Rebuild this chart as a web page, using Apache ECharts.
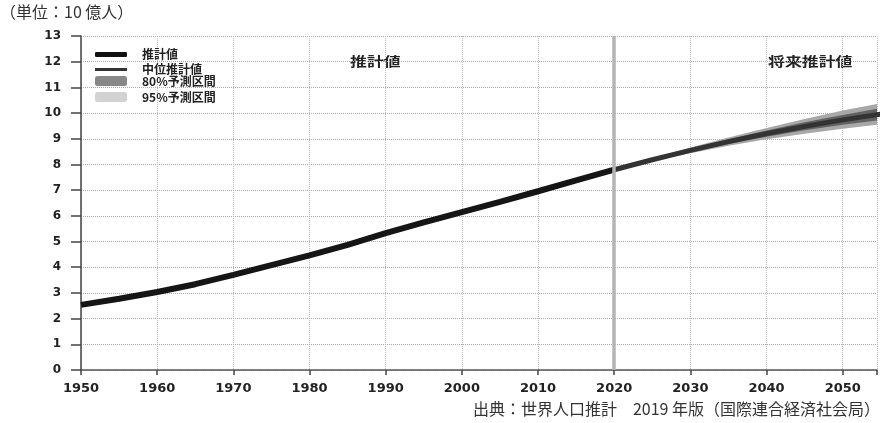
<!DOCTYPE html>
<html><head><meta charset="utf-8">
<script src="https://cdn.jsdelivr.net/npm/echarts@6/dist/echarts.min.js"></script>
<style>html,body{margin:0;padding:0;background:#fff}#c{width:880px;height:423px}</style>
</head><body><div id="c"></div>
<script>
// ---- data (population, unit: billion) ----
const estYears  = [1950,1955,1960,1965,1970,1975,1980,1985,1990,1995,2000,2005,2010,2015,2020];
const estValues = [2.536,2.773,3.035,3.340,3.700,4.079,4.458,4.871,5.327,5.744,6.143,6.542,6.957,7.380,7.795];
const projYears  = [2020,2025,2030,2035,2040,2045,2050,2055,2060];
const projMedian = [7.795,8.184,8.548,8.887,9.199,9.482,9.735,9.958,10.152];
const pi80Low  = [7.795,8.160,8.490,8.800,9.080,9.330,9.550,9.730,9.870];
const pi80High = [7.795,8.210,8.610,8.980,9.320,9.640,9.930,10.200,10.450];
const pi95Low  = [7.795,8.140,8.440,8.730,8.980,9.200,9.390,9.560,9.700];
const pi95High = [7.795,8.230,8.660,9.050,9.420,9.770,10.100,10.380,10.640];
const xTicks = [1950,1960,1970,1980,1990,2000,2010,2020,2030,2040,2050];
const yTicks = [0,1,2,3,4,5,6,7,8,9,10,11,12,13];
const names = ['推計値','中位推計値','80%予測区間','95%予測区間'];

const pairs = (xs, ys) => xs.map((x,i)=>[x, ys[i]]);

const chart = echarts.init(document.getElementById('c'));
const cjk = '"Noto Sans CJK JP", sans-serif';
const lg = (name, cy, h, color, icon) => ({
  left: 95, top: cy - h/2, orient: 'vertical', itemWidth: 32, itemHeight: h, itemGap: 0,
  selectedMode: false, padding: 0,
  textStyle: {fontFamily: cjk, fontWeight: 'bold', fontSize: 12, color: '#222', padding: [0,0,0,10]},
  data: [{name, icon, itemStyle: {color, borderWidth: 0}}]
});

const band = (name, lo, hi, color, z) => ({
  name, type: 'custom', z, silent: true, clip: true,
  itemStyle: {color},
  data: projYears.map((x,i)=>[x, lo[i], hi[i]]),
  encode: {x: 0, y: [1, 2]},
  renderItem: (params, api) => {
    if (params.dataIndex !== 0) return null;
    const top = projYears.map((x,i)=>api.coord([x, hi[i]]));
    const bot = projYears.map((x,i)=>api.coord([x, lo[i]])).reverse();
    return {type: 'polygon', shape: {points: top.concat(bot)}, style: {fill: color}};
  }
});

chart.setOption({
  animation: false,
  grid: {left: 81, right: 0, top: 36, bottom: 53},
  legend: [
    lg(names[0], 51, 5, '#111', 'roundRect'),
    lg(names[1], 65, 3, '#333', 'rect'),
    lg(names[2], 80, 10, '#888', 'roundRect'),
    lg(names[3], 96, 10, '#d2d2d2', 'roundRect')
  ],
  xAxis: {
    type: 'value', min: 1950, max: 2054.5, interval: 10,
    axisLine: {lineStyle: {color: '#555', width: 1.5}},
    axisTick: {length: 5, lineStyle: {color: '#444', width: 1.5}},
    axisLabel: {fontFamily: '"DejaVu Sans", sans-serif', fontWeight: 'bold', fontSize: 13, color: '#222', margin: 12,
      formatter: v => xTicks.includes(v) ? String(v) : ''},
    splitLine: {show: true, lineStyle: {color: '#bbb', type: 'dotted', width: 1}}
  },
  yAxis: {
    type: 'value', min: 0, max: 13, interval: 1,
    axisLine: {show: true, lineStyle: {color: '#444', width: 1.5}},
    axisTick: {show: true, length: 10, lineStyle: {color: '#444', width: 1.5}},
    axisLabel: {fontFamily: '"DejaVu Sans", sans-serif', fontWeight: 'bold', fontSize: 12, color: '#222', margin: 20,
      formatter: v => yTicks.includes(v) ? String(v) : ''},
    splitLine: {show: true, interval: 1, lineStyle: {color: '#aaa', type: 'dotted', width: 1}}
  },
  series: [
    band(names[3], pi95Low, pi95High, '#a8a8a8', 1),
    band(names[2], pi80Low, pi80High, '#626262', 2),
    {name: names[1], type: 'line', data: pairs(projYears, projMedian), symbol: 'none',
      lineStyle: {color: '#333', width: 5}, itemStyle: {color: '#333'}, z: 3},
    {name: names[0], type: 'line', data: pairs(estYears, estValues), symbol: 'none',
      lineStyle: {color: '#151515', width: 6}, itemStyle: {color: '#111'}, z: 4,
      markLine: {silent: true, symbol: 'none', label: {show: false},
        lineStyle: {color: '#b4b4b4', width: 3.5, type: 'solid'},
        data: [{xAxis: 2020}]}}
  ],
  graphic: [
    {type: 'text', left: 0, top: 4, style: {text: '（単位：10 億人）', font: '16px "Noto Sans CJK JP"', fill: '#333'}},
    {type: 'text', right: 0, top: 401, style: {text: '出典：世界人口推計　2019 年版（国際連合経済社会局）', font: '16px "Noto Sans CJK JP"', fill: '#333'}},
    {type: 'text', left: 350, top: 55, scaleX: 1.3, style: {text: '推計値', font: 'bold 13px "Noto Sans CJK JP"', fill: '#222'}},
    {type: 'text', left: 768, top: 55, scaleX: 1.3, style: {text: '将来推計値', font: 'bold 13px "Noto Sans CJK JP"', fill: '#222'}}
  ]
});
</script></body></html>
